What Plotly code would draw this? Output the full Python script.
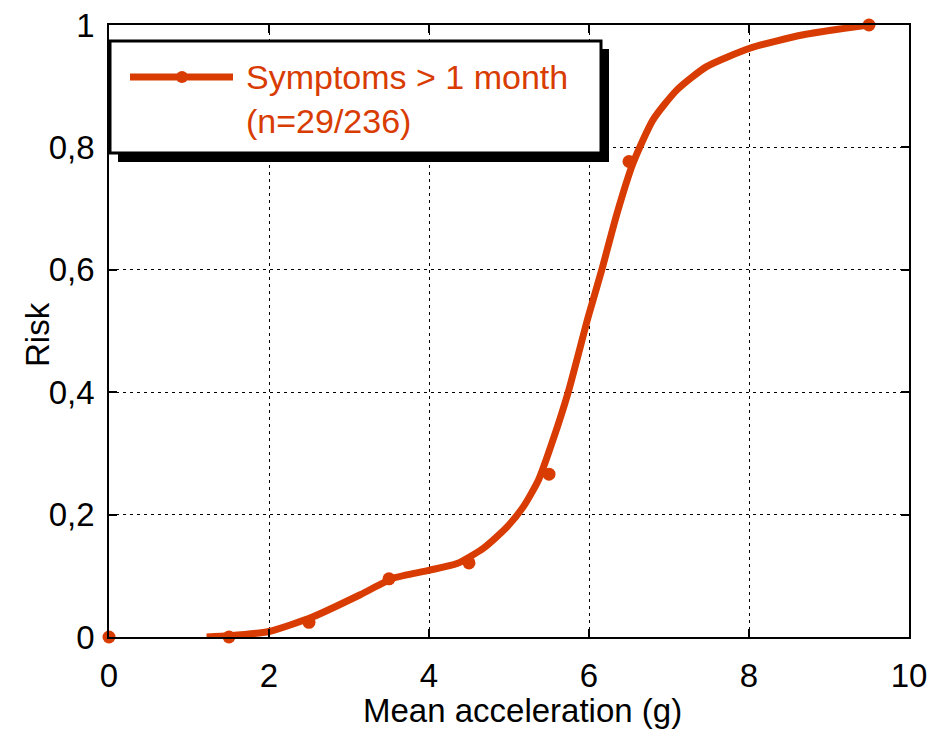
import plotly.graph_objects as go

# Observed points
obs_x = [0, 1.5, 2.5, 3.5, 4.5, 5.5, 6.5, 9.5]
obs_y = [0.0, 0.0, 0.024, 0.095, 0.121, 0.266, 0.777, 1.0]

# Smoothed fitted curve
fit_x = [1.22, 1.5, 2.0, 2.55, 3.14, 3.55, 4.0, 4.35, 4.68, 4.97, 5.18, 5.37,
         5.55, 5.74, 5.99, 6.16, 6.35, 6.55, 6.80, 7.10, 7.47, 8.01, 8.68, 9.49]
fit_y = [0.0, 0.002, 0.009, 0.033, 0.069, 0.096, 0.109, 0.12, 0.145, 0.179, 0.213, 0.257,
         0.322, 0.40, 0.523, 0.60, 0.692, 0.774, 0.845, 0.894, 0.932, 0.962, 0.984, 1.0]

x_ticks = [0, 2, 4, 6, 8, 10]
x_tick_text = ["0", "2", "4", "6", "8", "10"]
y_ticks = [0, 0.2, 0.4, 0.6, 0.8, 1.0]
y_tick_text = ["0", "0,2", "0,4", "0,6", "0,8", "1"]

series_name = "Symptoms > 1 month"
series_sub = "(n=29/236)"
x_title = "Mean acceleration (g)"
y_title = "Risk"

COLOR = "#D83C02"
FONT = "Liberation Sans, Arial, sans-serif"

OFF = 8  # page body margin
W, H = 945 - 2 * OFF, 739 - 2 * OFF
# plot area in page pixels: x 109..909, y 25..637
L, R, T, B = 109 - OFF, W - (909 - OFF), 25 - OFF, H - (637 - OFF)
PW, PH = W - L - R, H - T - B


def px(x):
    # page pixel -> paper
    return (x - OFF - L) / PW


def py(y):
    return (H - B - (y - OFF)) / PH


fig = go.Figure()
fig.add_trace(go.Scatter(x=fit_x, y=fit_y, mode="lines",
                         line=dict(color=COLOR, width=7, shape="spline", smoothing=0.6),
                         showlegend=False, hoverinfo="skip"))
fig.add_trace(go.Scatter(x=obs_x, y=obs_y, mode="markers", marker=dict(color=COLOR, size=13),
                         cliponaxis=False, showlegend=False, name=series_name))

axis_common = dict(
    showline=True, linecolor="black", linewidth=1.5, mirror="ticks",
    ticks="inside", ticklen=8, tickcolor="black", tickwidth=1.5,
    showgrid=True, gridcolor="black", gridwidth=1, griddash="3px,4px",
    zeroline=False, automargin=False, ticklabeloverflow="allow",
    tickfont=dict(family=FONT, size=33, color="black"),
)

fig.update_xaxes(range=[0, 10], tickvals=x_ticks, ticktext=x_tick_text, ticklabelstandoff=9, **axis_common)
fig.update_yaxes(range=[0, 1], tickvals=y_ticks, ticktext=y_tick_text, ticklabelstandoff=6, **axis_common)

shapes = [
    # legend shadow
    dict(type="rect", xref="paper", yref="paper", x0=px(118), x1=px(609), y0=py(162), y1=py(49),
         fillcolor="black", line=dict(width=0), layer="above"),
    # legend box
    dict(type="rect", xref="paper", yref="paper", x0=px(110), x1=px(601), y0=py(153), y1=py(41),
         fillcolor="white", line=dict(color="black", width=3), layer="above"),
    # legend line sample
    dict(type="line", xref="paper", yref="paper", x0=px(130), x1=px(233), y0=py(77), y1=py(77),
         line=dict(color=COLOR, width=7), layer="above"),
    dict(type="circle", xref="paper", yref="paper", x0=px(176), x1=px(188), y0=py(83), y1=py(71),
         fillcolor=COLOR, line=dict(width=0), layer="above"),
]

annotations = [
    dict(xref="paper", yref="paper", x=px(244), y=py(77), xanchor="left", yanchor="middle",
         text=series_name, showarrow=False, font=dict(family=FONT, size=34, color=COLOR)),
    dict(xref="paper", yref="paper", x=px(244), y=py(121), xanchor="left", yanchor="middle",
         text=series_sub, showarrow=False, font=dict(family=FONT, size=34, color=COLOR)),
    dict(xref="paper", yref="paper", x=px(522), y=py(710), xanchor="center", yanchor="middle",
         text=x_title, showarrow=False, font=dict(family=FONT, size=33, color="black")),
    dict(xref="paper", yref="paper", x=px(37), y=py(335), xanchor="center", yanchor="middle",
         text=y_title, textangle=-90, showarrow=False, font=dict(family=FONT, size=33, color="black")),
]

fig.update_layout(
    width=W, height=H,
    margin=dict(l=L, r=R, t=T, b=B),
    paper_bgcolor="white", plot_bgcolor="white",
    shapes=shapes, annotations=annotations,
    showlegend=False,
)

fig.write_html("out.html")
